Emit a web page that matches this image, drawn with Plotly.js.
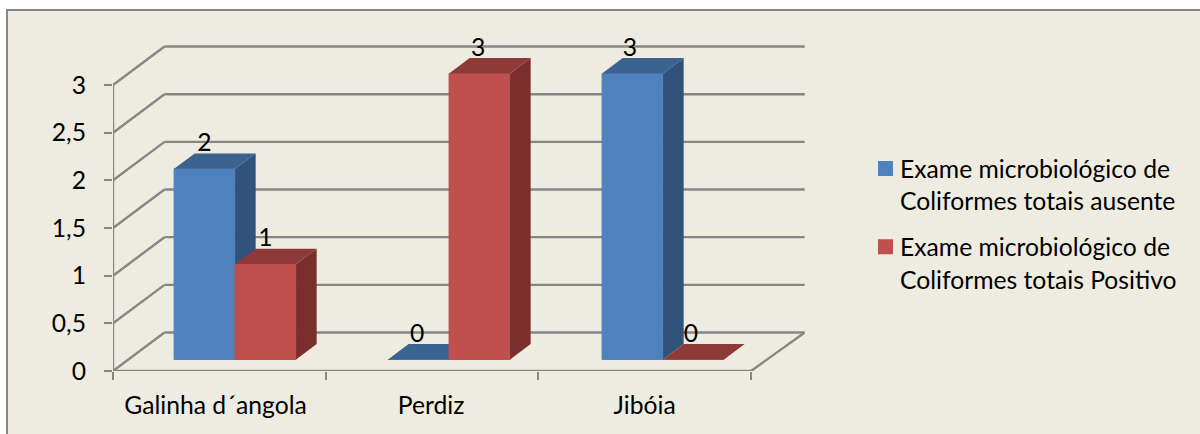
<!DOCTYPE html>
<html>
<head>
<meta charset="utf-8">
<script src="https://cdn.plot.ly/plotly-3.0.1.min.js"></script>
<style>
html,body{margin:0;padding:0;background:#fff;overflow:hidden}
.legendpoints{transform:translate(5.5px,0) scale(1.15);transform-origin:20px 0}
</style>
</head>
<body>
<div id="chart" style="width:1200px;height:434px"></div>
<script>
const categories = ["Galinha d´angola", "Perdiz", "Jibóia"];
const seriesAusente = [2, 0, 3];
const seriesPositivo = [1, 3, 0];
const nameAusente = "Exame microbiológico de<br>Coliformes totais ausente";
const namePositivo = "Exame microbiológico de<br>Coliformes totais Positivo";
const yTickVals = [0, 0.5, 1, 1.5, 2, 2.5, 3];
const yTickText = ["0", "0,5", "1", "1,5", "2", "2,5", "3"];
const xTickBounds = [-0.5, 0.5, 1.5, 2.5];

const FONT = "Lato, 'Open Sans', sans-serif";
const FS = 24.7;
const GRAY = "#868686";
const W = 1200, H = 434, L = 113, R = 805, T = 45, B = 371;
const PX_X = 212.67, PX_Y = 95.33;
const xRange = [-0.5, -0.5 + (R - L) / PX_X];
const yRange = [0, (B - T) / PX_Y];
// oblique projection of the depth axis, in axis units
const DX = 51.5 / PX_X, DY = 38.5 / PX_Y;
const backRightExtra = 2.2 / PX_X;
const barDepthStart = 0.30, barDepth = 0.40;
const barWidth = 61 / PX_X, groupStep = 214 / PX_X;
const groupOrigin = 0.074;
const floorY = DY * barDepthStart;

function groupCentre(i) { return groupOrigin + i * groupStep; }

function faces(values, side) {
  const fx = [], fy = [], sx = [], sy = [], tx = [], ty = [];
  const ddx = DX * barDepth, ddy = DY * barDepth;
  values.forEach((v, i) => {
    const c = groupCentre(i);
    const x0 = side < 0 ? c - barWidth : c;
    const x1 = x0 + barWidth;
    fx.push(x0);
    fy.push(v);
    const top = floorY + v;
    sx.push(x1, x1 + ddx, x1 + ddx, x1, x1, null);
    sy.push(floorY, floorY + ddy, top + ddy, top, floorY, null);
    tx.push(x0, x0 + ddx, x1 + ddx, x1, x0, null);
    ty.push(top, top + ddy, top + ddy, top, top, null);
  });
  return { fx, fy, sx, sy, tx, ty };
}

function seriesTraces(values, side, name, cFront, cTop, cSide, xa, ya) {
  const f = faces(values, side);
  const poly = (x, y, color) => ({
    type: "scatter", mode: "lines", x, y, xaxis: xa, yaxis: ya, fill: "toself",
    fillcolor: color, line: { width: 0, color }, showlegend: false, hoverinfo: "skip"
  });
  return [
    { type: "bar", x: f.fx, y: f.fy, base: floorY, width: barWidth, offset: 0, xaxis: xa, yaxis: ya,
      name, legendgroup: name, marker: { color: cFront, line: { width: 1, color: cFront } }, hoverinfo: "y" },
    poly(f.sx, f.sy, cSide),
    poly(f.tx, f.ty, cTop)
  ];
}

const traces = [
  ...seriesTraces(seriesAusente, -1, nameAusente, "#4F81BD", "#3C6290", "#31527B", "x", "y"),
  ...seriesTraces(seriesPositivo, 1, namePositivo, "#C0504D", "#8D3A38", "#7A2F2D", "x2", "y2")
];

// value labels
const labelOffsetAusente = -0.07, labelOffsetPositivo = 0.217, labelRise = 0.25;
traces.push({
  type: "scatter", mode: "text", xaxis: "x2", yaxis: "y2", showlegend: false, hoverinfo: "skip",
  cliponaxis: false,
  x: [...categories.map((_, i) => i + labelOffsetAusente), ...categories.map((_, i) => i + labelOffsetPositivo)],
  y: [...seriesAusente, ...seriesPositivo].map(v => v + floorY + labelRise),
  text: [...seriesAusente, ...seriesPositivo].map(String),
  textposition: "middle center",
  textfont: { family: FONT, size: FS, color: "#000" }
});

// walls and floor
const shapes = [];
const line = (x0, y0, x1, y1) => shapes.push({
  type: "line", xref: "x", yref: "y", x0, y0, x1, y1, layer: "below",
  line: { color: GRAY, width: 2.4 }
});
const xL = xTickBounds[0], xEnd = xTickBounds[3];
yTickVals.forEach(v => {
  line(xL, v, xL + DX, v + DY);
  line(xL + DX, v + DY, xEnd + DX + backRightExtra, v + DY);
});
line(xL, 0, xL, 3);
line(xL, 0, xEnd, 0);
line(xEnd, 0, xEnd + DX + backRightExtra, DY);

const px = p => (p - L) / (R - L), py = p => (B - p) / (B - T);
shapes.unshift({
  type: "rect", xref: "paper", yref: "paper", layer: "below",
  x0: px(7), x1: px(W + 10), y0: py(H + 10), y1: py(10),
  fillcolor: "#EEECE1", line: { color: GRAY, width: 2 }
});

const tickFont = { family: FONT, size: FS, color: "#000" };
const labelNudge = [-0.018, -0.004, 0];
const layout = {
  width: W, height: H,
  margin: { l: L, r: W - R, t: T, b: H - B, pad: 0 },
  paper_bgcolor: "#fff", plot_bgcolor: "rgba(0,0,0,0)",
  barmode: "overlay",
  showlegend: true,
  legend: {
    x: px(860), y: py(146), xanchor: "left", yanchor: "top", valign: "top",
    bgcolor: "rgba(0,0,0,0)", borderwidth: 0, traceorder: "grouped",
    font: { family: FONT, size: FS, color: "#000" }, tracegroupgap: 11
  },
  xaxis: {
    range: xRange, showgrid: false, zeroline: false, showline: false,
    tickmode: "array", tickvals: categories.map((_, i) => i + labelNudge[i]), ticktext: categories,
    ticks: "", tickfont: tickFont, ticklabelstandoff: 17,
    minor: { tickmode: "array", tickvals: xTickBounds, ticks: "outside", ticklen: 8, tickwidth: 2, tickcolor: GRAY, showgrid: false }
  },
  yaxis: {
    range: yRange, showgrid: false, zeroline: false, showline: false,
    tickmode: "array", tickvals: yTickVals, ticktext: yTickText,
    ticks: "outside", ticklen: 8, tickwidth: 2, tickcolor: GRAY,
    tickfont: tickFont, ticklabelstandoff: 13
  },
  xaxis2: { range: xRange, overlaying: "x", visible: false, anchor: "y2" },
  yaxis2: { range: yRange, overlaying: "y", visible: false, anchor: "x2" },
  shapes
};

Plotly.newPlot("chart", traces, layout, { displayModeBar: false, staticPlot: true });
</script>
</body>
</html>
